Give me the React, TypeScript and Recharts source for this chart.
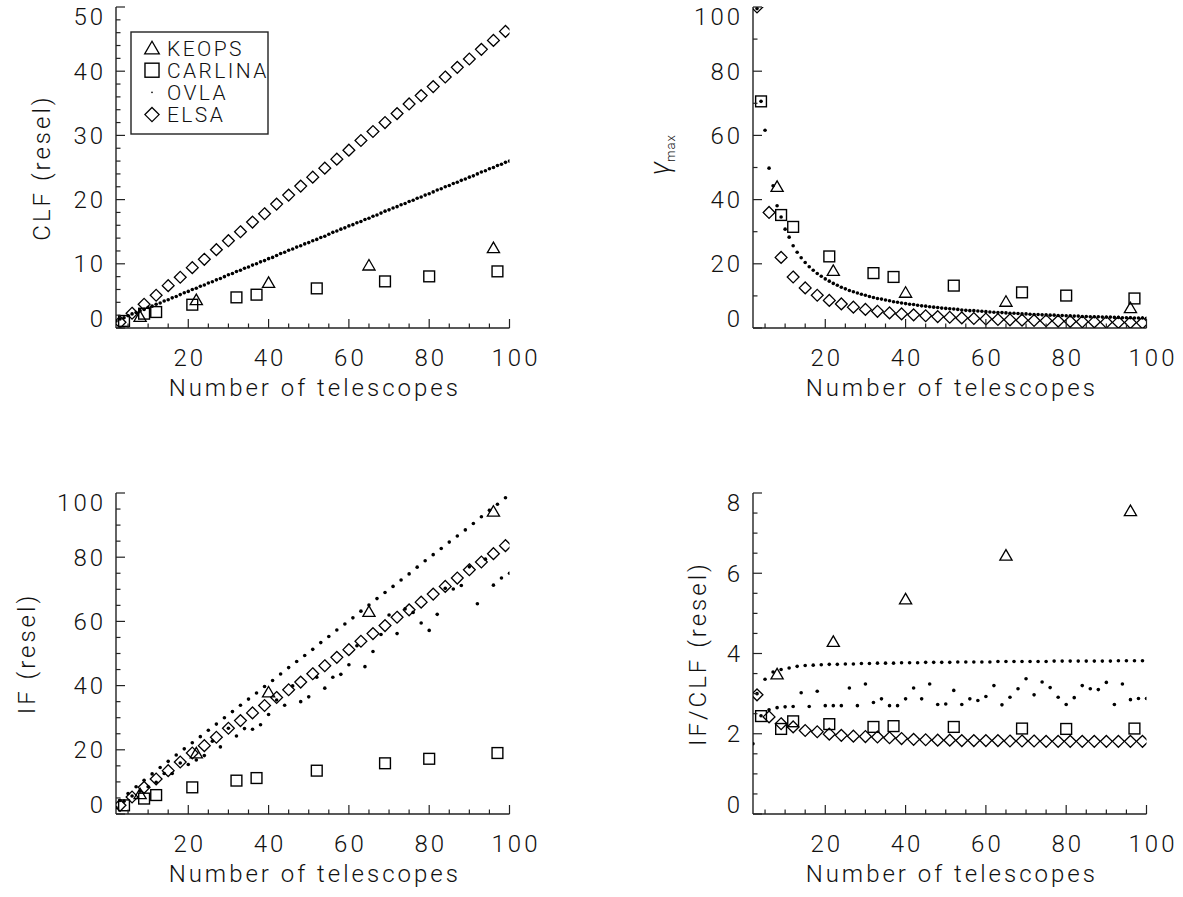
import React from 'react';
import { ScatterChart, Scatter, XAxis, YAxis, Legend } from 'recharts';

// telescope counts and the four quantities for each array concept
const xTicks = [5, 10, 15, 20, 25, 30, 35, 40, 45, 50, 55, 60, 65, 70, 75, 80, 85, 90, 95, 100];
const xMajor = [20, 40, 60, 80, 100];

const keopsN = [8, 22, 40, 65, 96];
const keopsCLF = [1.8, 4.4, 7.1, 9.8, 12.5];
const keopsGamma = [44.1, 17.9, 11.1, 8.3, 6.3];
const keopsIF = [6.3, 19.0, 38.0, 63.1, 94.3];
const keopsRatio = [3.49, 4.3, 5.36, 6.45, 7.56];

const carlinaN = [4, 9, 12, 21, 32, 37, 52, 69, 80, 97];
const carlinaCLF = [1.1, 2.23, 2.49, 3.63, 4.77, 5.19, 6.17, 7.26, 8.04, 8.82];
const carlinaGamma = [70.6, 35.2, 31.5, 22.3, 17.1, 15.9, 13.2, 11.1, 10.1, 9.2];
const carlinaIF = [2.7, 4.8, 5.9, 8.3, 10.4, 11.2, 13.5, 15.8, 17.2, 19.0];
const carlinaRatio = [2.44, 2.12, 2.31, 2.24, 2.17, 2.19, 2.17, 2.13, 2.12, 2.13];

const elsaN = [3, 6, 9, 12, 15, 18, 21, 24, 27, 30, 33, 36, 39, 42, 45, 48, 51, 54, 57, 60, 63, 66, 69, 72, 75, 78, 81, 84, 87, 90, 93, 96, 99];
const elsaCLF = [0.9, 2.3, 3.7, 5.1, 6.6, 7.9, 9.4, 10.7, 12.2, 13.6, 15.0, 16.5, 17.8, 19.3, 20.7, 22.1, 23.5, 24.9, 26.3, 27.7, 29.2, 30.6, 32.0, 33.4, 34.9, 36.2, 37.6, 39.1, 40.6, 41.9, 43.4, 44.8, 46.2];
const elsaGamma = [100, 36.0, 22.0, 15.9, 12.5, 10.2, 8.6, 7.5, 6.5, 5.8, 5.2, 4.7, 4.4, 4.1, 3.8, 3.55, 3.35, 3.15, 2.95, 2.8, 2.65, 2.55, 2.45, 2.35, 2.25, 2.15, 2.05, 1.95, 1.9, 1.8, 1.75, 1.7, 1.6];
const elsaIF = [2.7, 5.3, 8.3, 10.9, 13.5, 16.2, 19.0, 21.3, 23.9, 26.7, 29.1, 31.5, 33.8, 36.3, 38.7, 41.1, 43.7, 46.2, 48.8, 51.2, 53.8, 56.2, 58.7, 61.3, 63.6, 66.0, 68.5, 70.9, 73.5, 76.1, 78.5, 81.1, 83.6];
const elsaRatio = [2.97, 2.42, 2.25, 2.17, 2.08, 2.05, 1.99, 1.96, 1.94, 1.93, 1.92, 1.9, 1.88, 1.86, 1.85, 1.84, 1.84, 1.83, 1.83, 1.83, 1.83, 1.82, 1.82, 1.82, 1.81, 1.81, 1.81, 1.81, 1.81, 1.81, 1.81, 1.81, 1.81];

const ovlaN = [
  2, 3, 4, 5, 6, 7, 8, 9, 10, 11,
  12, 13, 14, 15, 16, 17, 18, 19, 20, 21,
  22, 23, 24, 25, 26, 27, 28, 29, 30, 31,
  32, 33, 34, 35, 36, 37, 38, 39, 40, 41,
  42, 43, 44, 45, 46, 47, 48, 49, 50, 51,
  52, 53, 54, 55, 56, 57, 58, 59, 60, 61,
  62, 63, 64, 65, 66, 67, 68, 69, 70, 71,
  72, 73, 74, 75, 76, 77, 78, 79, 80, 81,
  82, 83, 84, 85, 86, 87, 88, 89, 90, 91,
  92, 93, 94, 95, 96, 97, 98, 99, 100,
];
const ovlaCLF = [
  1.1, 1.4, 1.6, 1.9, 2.2, 2.4, 2.7, 2.9, 3.2, 3.4,
  3.7, 3.9, 4.2, 4.4, 4.7, 4.9, 5.2, 5.5, 5.7, 6.0,
  6.2, 6.5, 6.7, 7.0, 7.2, 7.5, 7.7, 8.0, 8.3, 8.5,
  8.8, 9.0, 9.3, 9.5, 9.8, 10.0, 10.3, 10.5, 10.8, 11.0,
  11.3, 11.6, 11.8, 12.1, 12.3, 12.6, 12.8, 13.1, 13.3, 13.6,
  13.8, 14.1, 14.3, 14.6, 14.9, 15.1, 15.4, 15.6, 15.9, 16.1,
  16.4, 16.6, 16.9, 17.1, 17.4, 17.6, 17.9, 18.2, 18.4, 18.7,
  18.9, 19.2, 19.4, 19.7, 19.9, 20.2, 20.4, 20.7, 20.9, 21.2,
  21.5, 21.7, 22.0, 22.2, 22.5, 22.7, 23.0, 23.2, 23.5, 23.7,
  24.0, 24.3, 24.5, 24.8, 25.0, 25.3, 25.5, 25.8, 26.0,
];
// starts at N = 3 (N = 2 is above the top of the plot)
const ovlaGamma = [
  99.5, 70.6, 61.6, 49.8, 44.3, 38.1, 34.6, 30.8, 28.3, 25.6,
  23.6, 21.9, 20.4, 19.1, 18.0, 17.0, 16.1, 15.3, 14.6, 13.9,
  13.3, 12.7, 12.2, 11.7, 11.3, 10.9, 10.5, 10.2, 9.8, 9.5,
  9.2, 9.0, 8.7, 8.5, 8.2, 8.0, 7.8, 7.6, 7.4, 7.3,
  7.1, 6.9, 6.8, 6.6, 6.5, 6.4, 6.2, 6.1, 6.0, 5.9,
  5.8, 5.6, 5.5, 5.4, 5.4, 5.3, 5.2, 5.1, 5.0, 4.9,
  4.8, 4.8, 4.7, 4.6, 4.6, 4.5, 4.4, 4.4, 4.3, 4.2,
  4.2, 4.1, 4.1, 4.0, 4.0, 3.9, 3.9, 3.8, 3.8, 3.7,
  3.7, 3.6, 3.6, 3.5, 3.5, 3.5, 3.4, 3.4, 3.4, 3.3,
  3.3, 3.2, 3.2, 3.2, 3.1, 3.1, 3.1, 3.0,
];
const ovlaIF = [
  2.0, 4.2, 4.0, 6.4, 5.6, 8.5, 7.1, 10.5, 8.5, 12.5,
  9.9, 14.5, 12.6, 16.4, 12.6, 18.4, 15.9, 20.3, 15.4, 22.2,
  16.8, 24.1, 18.2, 26.1, 22.7, 28.0, 20.9, 30.0, 26.7, 31.9,
  24.3, 33.9, 26.6, 35.8, 26.4, 37.7, 27.8, 39.7, 31.0, 41.6,
  35.5, 43.6, 33.9, 45.6, 39.9, 47.5, 35.0, 49.4, 36.5, 51.3,
  42.6, 53.4, 39.2, 55.3, 42.6, 57.3, 43.5, 59.2, 46.5, 61.1,
  52.4, 63.2, 45.9, 65.1, 50.6, 67.1, 55.9, 69.0, 62.0, 70.9,
  56.2, 72.9, 63.9, 74.8, 62.8, 76.9, 59.5, 78.9, 57.2, 80.8,
  62.2, 82.7, 70.3, 84.7, 70.1, 86.6, 71.2, 88.5, 77.0, 90.5,
  65.5, 92.6, 79.4, 94.6, 71.3, 96.5, 73.5, 98.5, 75.0,
];
const ovlaRatio = [
  1.75, 3.0, 2.45, 3.36, 2.6, 3.54, 2.65, 3.6, 2.67, 3.64,
  2.68, 3.68, 3.02, 3.7, 2.68, 3.71, 3.06, 3.72, 2.7, 3.73,
  2.7, 3.73, 2.7, 3.74, 3.14, 3.74, 2.7, 3.75, 3.24, 3.75,
  2.78, 3.76, 2.87, 3.76, 2.7, 3.76, 2.7, 3.77, 2.87, 3.77,
  3.14, 3.77, 2.87, 3.78, 3.24, 3.78, 2.73, 3.78, 2.74, 3.78,
  3.08, 3.79, 2.73, 3.79, 2.87, 3.79, 2.83, 3.79, 2.93, 3.79,
  3.2, 3.8, 2.72, 3.8, 2.91, 3.8, 3.12, 3.8, 3.37, 3.8,
  2.97, 3.8, 3.29, 3.8, 3.15, 3.81, 2.91, 3.81, 2.73, 3.81,
  2.9, 3.81, 3.2, 3.81, 3.12, 3.81, 3.1, 3.81, 3.28, 3.81,
  2.73, 3.82, 3.24, 3.82, 2.85, 3.82, 2.88, 3.82, 2.88,
];

const seriesNames = ['KEOPS', 'CARLINA', 'OVLA', 'ELSA'];

const clfTicks = [0, 2, 4, 6, 8, 10, 12, 14, 16, 18, 20, 22, 24, 26, 28, 30, 32, 34, 36, 38, 40, 42, 44, 46, 48, 50];
const clfMajor = [0, 10, 20, 30, 40, 50];
const gammaTicks = [0, 10, 20, 30, 40, 50, 60, 70, 80, 90, 100];
const gammaMajor = [0, 20, 40, 60, 80, 100];
const ifTicks = [0, 5, 10, 15, 20, 25, 30, 35, 40, 45, 50, 55, 60, 65, 70, 75, 80, 85, 90, 95, 100];
const ifMajor = [0, 20, 40, 60, 80, 100];
const ratioTicks = [0, 0.5, 1, 1.5, 2, 2.5, 3, 3.5, 4, 4.5, 5, 5.5, 6, 6.5, 7, 7.5, 8];
const ratioMajor = [0, 2, 4, 6, 8];

const FONT = 'Roboto, "Liberation Sans", sans-serif';
const INK = '#000';
const AXIS = '#222';
const BOX_W = 393.5;
const BOX_H = 321;
const Y_AXIS_W = 110;
const TOP_PAD = 5;
const MAJ = 9;
const MIN = 4.5;
const FS = 24;

type Pt = { x: number; y: number };
const zip = (xs: number[], ys: number[]): Pt[] => xs.map((x, i) => ({ x, y: ys[i] }));

const textStyle = { fontFamily: FONT, fontWeight: 300, fill: '#111' } as const;

const Tri = ({ cx, cy, s = 1 }: any) => (
  <polygon
    points={`${cx},${cy - 5.6 * s} ${cx - 6.1 * s},${cy + 4.9 * s} ${cx + 6.1 * s},${cy + 4.9 * s}`}
    fill="none" stroke={INK} strokeWidth={1.3} />
);
const Sq = ({ cx, cy, s = 1 }: any) => (
  <rect x={cx - 5.4 * s} y={cy - 5.4 * s} width={10.8 * s} height={10.8 * s} fill="none" stroke={INK} strokeWidth={1.4} />
);
const Dia = ({ cx, cy, s = 1 }: any) => (
  <polygon
    points={`${cx},${cy - 5.9 * s} ${cx + 5.9 * s},${cy} ${cx},${cy + 5.9 * s} ${cx - 5.9 * s},${cy}`}
    fill="none" stroke={INK} strokeWidth={1.3} />
);
const Dot = ({ cx, cy }: any) => <circle cx={cx} cy={cy} r={1.8} fill={INK} />;

function bottomTick(p: any) {
  const v = p.payload.value;
  const major = xMajor.includes(v);
  return (
    <g>
      <line x1={p.x} x2={p.x} y1={p.y} y2={p.y - (major ? MAJ : MIN)} stroke={AXIS} strokeWidth={1.2} />
      {major && (
        <text x={p.x + 1.5 + (v === 100 ? 5 : 0)} y={p.y + 29} dy="0.355em" textAnchor="middle" fontSize={FS} letterSpacing={3} {...textStyle}>
          {v}
        </text>
      )}
    </g>
  );
}

function topTick(p: any) {
  const major = xMajor.includes(p.payload.value);
  return <line x1={p.x} x2={p.x} y1={p.y} y2={p.y + (major ? MAJ : MIN)} stroke={AXIS} strokeWidth={1.2} />;
}

function makeLeftTick(majors: number[], max: number) {
  return (p: any) => {
    const v = p.payload.value;
    const major = majors.includes(v);
    let shift = 0;
    if (v === max) shift = 9.5;
    if (v === 0) shift = -9.5;
    return (
      <g>
        <line x1={p.x} x2={p.x + (major ? MAJ : MIN)} y1={p.y} y2={p.y} stroke={AXIS} strokeWidth={1.2} />
        {major && (
          <text x={p.x - 10} y={p.y + shift} dy="0.355em" textAnchor="end" fontSize={FS} letterSpacing={3} {...textStyle}>
            {v}
          </text>
        )}
      </g>
    );
  };
}

function makeRightTick(majors: number[]) {
  return (p: any) => {
    const major = majors.includes(p.payload.value);
    return <line x1={p.x} x2={p.x - (major ? MAJ : MIN)} y1={p.y} y2={p.y} stroke={AXIS} strokeWidth={1.2} />;
  };
}

function LegendBox() {
  const rowY = (i: number) => 17 + i * 22.2;
  const shapes = [
    <Tri cx={22} cy={rowY(0)} s={1.2} />,
    <Sq cx={22} cy={rowY(1)} s={1.3} />,
    <circle cx={22} cy={rowY(2)} r={0.8} fill={INK} />,
    <Dia cx={22} cy={rowY(3)} s={1.2} />,
  ];
  return (
    <svg width={140} height={106} style={{ display: 'block' }}>
      <rect x={1} y={1} width={137} height={102} fill="#fff" stroke={AXIS} strokeWidth={1.4} />
      {seriesNames.map((name, i) => (
        <g key={name}>
          {shapes[i]}
          <text x={37} y={rowY(i)} dy="0.36em" fontSize={21} letterSpacing={2.4} {...textStyle}>
            {name}
          </text>
        </g>
      ))}
    </svg>
  );
}

interface PanelProps {
  boxLeft: number;
  boxTop: number;
  yMax: number;
  yTicks: number[];
  yMajor: number[];
  yTitle: React.ReactNode;
  keops: Pt[];
  carlina: Pt[];
  ovla: Pt[];
  elsa: Pt[];
  legend?: boolean;
}

function Panel({ boxLeft, boxTop, yMax, yTicks, yMajor, yTitle, keops, carlina, ovla, elsa, legend }: PanelProps) {
  const w = Y_AXIS_W + BOX_W + 60;
  const h = TOP_PAD + BOX_H + 100;
  const cx = Y_AXIS_W + BOX_W / 2;
  return (
    <div style={{ position: 'absolute', left: boxLeft - Y_AXIS_W, top: boxTop - TOP_PAD }}>
      <ScatterChart width={w} height={h} margin={{ top: TOP_PAD, right: 60, bottom: 0, left: 0 }}>
        <XAxis
          xAxisId="b" type="number" dataKey="x" domain={[2, 100]} allowDataOverflow
          ticks={xTicks} interval={0} tickSize={0} tickMargin={0} tickLine={false}
          tick={bottomTick} height={100}
          axisLine={{ stroke: AXIS, strokeWidth: 1.4 }}
          label={{
            content: () => (
              <text x={cx + 2} y={TOP_PAD + BOX_H + 68} textAnchor="middle" fontSize={FS} letterSpacing={3} {...textStyle}>
                Number of telescopes
              </text>
            ),
          }}
        />
        <XAxis
          xAxisId="t" orientation="top" type="number" domain={[2, 100]} allowDataOverflow
          ticks={xTicks} interval={0} tickSize={0} tickMargin={0} tickLine={false}
          tick={topTick} height={0}
          axisLine={{ stroke: AXIS, strokeWidth: 1.4 }}
        />
        <YAxis
          yAxisId="l" type="number" dataKey="y" domain={[0, yMax]} allowDataOverflow
          ticks={yTicks} interval={0} tickSize={0} tickMargin={0} tickLine={false}
          tick={makeLeftTick(yMajor, yMax)} width={Y_AXIS_W}
          axisLine={{ stroke: AXIS, strokeWidth: 1.4 }}
          label={{ content: () => yTitle }}
        />
        <YAxis
          yAxisId="r" orientation="right" type="number" domain={[0, yMax]} allowDataOverflow
          ticks={yTicks} interval={0} tickSize={0} tickMargin={0} tickLine={false}
          tick={makeRightTick(yMajor)} width={0}
          axisLine={{ stroke: AXIS, strokeWidth: 1.4 }}
        />
        <Scatter name={seriesNames[2]} xAxisId="b" yAxisId="l" data={ovla} shape={(p: any) => <Dot cx={p.cx} cy={p.cy} />} isAnimationActive={false} />
        <Scatter name={seriesNames[3]} xAxisId="b" yAxisId="l" data={elsa} shape={(p: any) => <Dia cx={p.cx} cy={p.cy} />} isAnimationActive={false} />
        <Scatter name={seriesNames[1]} xAxisId="b" yAxisId="l" data={carlina} shape={(p: any) => <Sq cx={p.cx} cy={p.cy} />} isAnimationActive={false} />
        <Scatter name={seriesNames[0]} xAxisId="b" yAxisId="l" data={keops} shape={(p: any) => <Tri cx={p.cx} cy={p.cy} />} isAnimationActive={false} />
        {legend && (
          <Legend
            layout="horizontal" align="center" verticalAlign="middle"
            content={() => <LegendBox />}
            wrapperStyle={{ left: 124, top: 28.4, width: 140, height: 106 }}
          />
        )}
      </ScatterChart>
    </div>
  );
}

// rotated y-axis title, x is the baseline position in chart coordinates
function VTitle({ x, children }: { x: number; children: React.ReactNode }) {
  const y = TOP_PAD + BOX_H / 2;
  return (
    <text x={x} y={y} transform={`rotate(-90, ${x}, ${y})`} textAnchor="middle" fontSize={FS} letterSpacing={3} {...textStyle}>
      {children}
    </text>
  );
}

export default function App() {
  return (
    <div style={{ position: 'absolute', left: 0, top: 0, width: 1183, height: 897, background: '#fff' }}>
      <Panel
        boxLeft={116} boxTop={7.3} yMax={50} yTicks={clfTicks} yMajor={clfMajor}
        yTitle={<VTitle x={44}>CLF (resel)</VTitle>}
        keops={zip(keopsN, keopsCLF)} carlina={zip(carlinaN, carlinaCLF)}
        ovla={zip(ovlaN, ovlaCLF)} elsa={zip(elsaN, elsaCLF)} legend
      />
      <Panel
        boxLeft={752.5} boxTop={7.3} yMax={100} yTicks={gammaTicks} yMajor={gammaMajor}
        yTitle={
          <text x={26} y={152.7} transform="rotate(-90, 26, 152.7)" textAnchor="middle" fontSize={28} {...textStyle} fontStyle="italic">
            <tspan>γ</tspan>
            <tspan fontSize={13} fontStyle="normal" dy={6} letterSpacing={1}>max</tspan>
          </text>
        }
        keops={zip(keopsN, keopsGamma)} carlina={zip(carlinaN, carlinaGamma)}
        ovla={zip(ovlaN.slice(1), ovlaGamma)} elsa={zip(elsaN, elsaGamma)}
      />
      <Panel
        boxLeft={116} boxTop={493.3} yMax={100} yTicks={ifTicks} yMajor={ifMajor}
        yTitle={<VTitle x={29}>IF (resel)</VTitle>}
        keops={zip(keopsN, keopsIF)} carlina={zip(carlinaN, carlinaIF)}
        ovla={zip(ovlaN, ovlaIF)} elsa={zip(elsaN, elsaIF)}
      />
      <Panel
        boxLeft={752.5} boxTop={493.3} yMax={8} yTicks={ratioTicks} yMajor={ratioMajor}
        yTitle={<VTitle x={62.5}>IF/CLF (resel)</VTitle>}
        keops={zip(keopsN, keopsRatio)} carlina={zip(carlinaN, carlinaRatio)}
        ovla={zip(ovlaN, ovlaRatio)} elsa={zip(elsaN, elsaRatio)}
      />
    </div>
  );
}
